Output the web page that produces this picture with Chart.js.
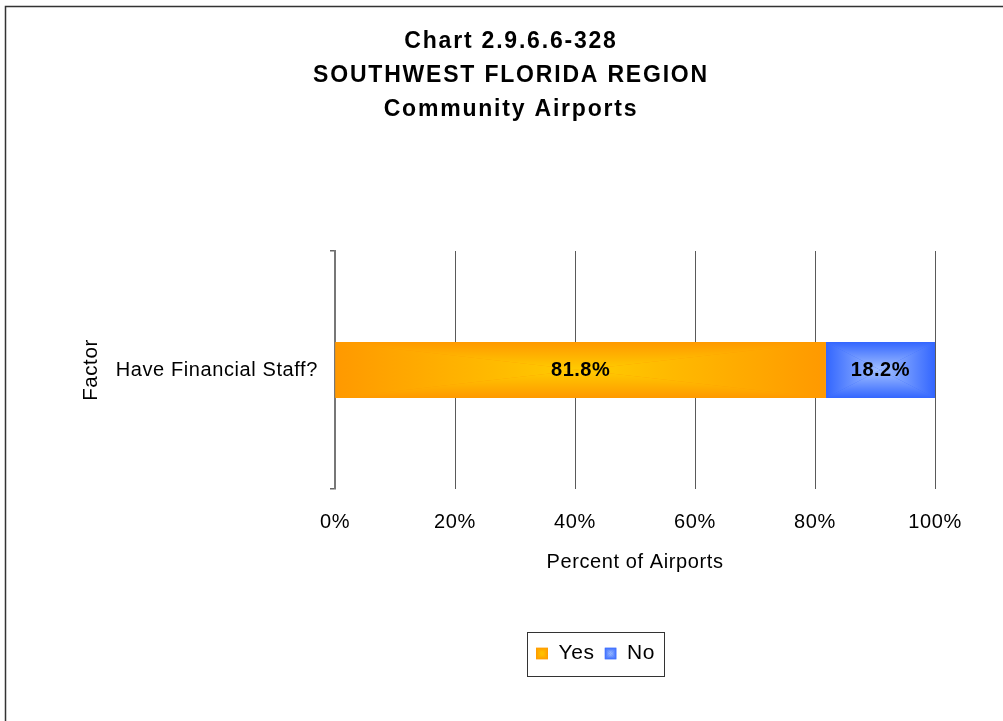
<!DOCTYPE html>
<html>
<head>
<meta charset="utf-8">
<script src="https://cdn.jsdelivr.net/npm/chart.js@4/dist/chart.umd.min.js"></script>
<style>
  html, body { margin: 0; padding: 0; background: #fff; }
</style>
</head>
<body>
<canvas id="myChart" width="1003" height="721"></canvas>
<script>
// data
const titleLines = ['Chart 2.9.6.6-328', 'SOUTHWEST FLORIDA REGION', 'Community Airports'];
const categories = ['Have Financial Staff?'];
const seriesNames = ['Yes', 'No'];
const yesValues = [81.8];
const noValues = [18.2];
const xMin = 0, xMax = 100, xStep = 20;

const FONT = '"Liberation Sans", Arial, sans-serif';
const orange = { edge: '#ff9900', mid: '#ffcc00' };
const blue = { edge: '#3366ff', mid: '#a3c1ff' };
const barHeight = 56;

/* rectangle "from centre" gradient, drawn as 4 triangles */
function paintBox(g, x0, y0, x1, y1, col) {
  const cx = (x0 + x1) / 2, cy = (y0 + y1) / 2;
  g.fillStyle = col.edge;
  g.fillRect(x0, y0, x1 - x0, y1 - y0);
  const tris = [
    [[x0, y0], [x1, y0], [cx, y0]],
    [[x0, y1], [x1, y1], [cx, y1]],
    [[x0, y0], [x0, y1], [x0, cy]],
    [[x1, y0], [x1, y1], [x1, cy]]
  ];
  tris.forEach(function (t) {
    const grad = g.createLinearGradient(t[2][0], t[2][1], cx, cy);
    grad.addColorStop(0, col.edge);
    grad.addColorStop(1, col.mid);
    g.fillStyle = grad;
    g.beginPath();
    g.moveTo(t[0][0], t[0][1]);
    g.lineTo(t[1][0], t[1][1]);
    g.lineTo(cx, cy);
    g.closePath();
    g.fill();
  });
}

function boxPattern(chart, rects, col) {
  const off = document.createElement('canvas');
  off.width = chart.width;
  off.height = chart.height;
  const g = off.getContext('2d');
  rects.forEach(function (r) { paintBox(g, r[0], r[1], r[2], r[3], col); });
  return chart.ctx.createPattern(off, 'no-repeat');
}

function segmentFill(col) {
  return function (c) {
    const chart = c.chart;
    if (c.type !== 'data' || !chart.chartArea || !chart.scales.x) return col.edge;
    let start = 0;
    for (let d = 0; d < c.datasetIndex; d++) start += chart.data.datasets[d].data[c.dataIndex];
    const x0 = chart.scales.x.getPixelForValue(start);
    const x1 = chart.scales.x.getPixelForValue(start + c.raw);
    const yc = chart.scales.y.getPixelForValue(c.dataIndex);
    return boxPattern(chart, [[x0, yc - barHeight / 2, x1, yc + barHeight / 2]], col);
  };
}

/* white page + frame line on top and left */
const frame = {
  id: 'frame',
  beforeUpdate(chart) { chart.ctx.letterSpacing = '0.6px'; },
  beforeDraw(chart) {
    const ctx = chart.ctx;
    ctx.save();
    ctx.fillStyle = '#fff';
    ctx.fillRect(0, 0, chart.width, chart.height);
    ctx.strokeStyle = '#333';
    ctx.lineWidth = 1.5;
    ctx.beginPath();
    ctx.moveTo(chart.width, 6.5);
    ctx.lineTo(5.5, 6.5);
    ctx.lineTo(5.5, chart.height);
    ctx.stroke();
    ctx.restore();
    ctx.letterSpacing = '0.6px';
  }
};

/* move title / legend to where the original had them, box the legend */
const placeBoxes = {
  id: 'placeBoxes',
  afterLayout(chart) {
    const t = chart.titleBlock;
    t.left += 6; t.right += 6;
    const l = chart.legend;
    const pad = l.options.labels.padding;
    const cur = (l.left + pad + l.right - l.lineWidths[0]) / 2;
    const delta = 536 - cur;
    l.left += delta; l.right += delta;
  },
  afterUpdate(chart) {
    const l = chart.legend;
    const cols = [orange, blue];
    const bw = l.options.labels.boxWidth;
    l.legendItems.forEach(function (item, i) {
      const hb = l.legendHitBoxes[i];
      const y0 = hb.top + (hb.height - bw) / 2;
      item.fillStyle = boxPattern(chart, [[hb.left, y0, hb.left + bw, y0 + bw]], cols[i]);
      item.lineWidth = 0;
    });
  },
  afterDraw(chart) {
    const l = chart.legend;
    const hbs = l.legendHitBoxes;
    if (!hbs.length) return;
    const first = hbs[0], last = hbs[hbs.length - 1];
    const cy = first.top + first.height / 2;
    const ctx = chart.ctx;
    ctx.save();
    ctx.strokeStyle = '#333';
    ctx.lineWidth = 1;
    ctx.strokeRect(Math.round(first.left - 9) + 0.5, Math.round(cy - 22) + 0.5,
      Math.round(last.left + last.width + 9 - (first.left - 9)), 44);
    ctx.restore();
  }
};

/* value labels in the middle of each bar */
const barLabels = {
  id: 'barLabels',
  afterDatasetsDraw(chart) {
    const ctx = chart.ctx;
    ctx.save();
    ctx.letterSpacing = '0.5px';
    ctx.font = 'bold 20px ' + FONT;
    ctx.fillStyle = '#000';
    ctx.textAlign = 'center';
    ctx.textBaseline = 'middle';
    chart.data.datasets.forEach(function (ds, i) {
      chart.getDatasetMeta(i).data.forEach(function (bar, j) {
        const p = bar.getCenterPoint();
        ctx.fillText(ds.data[j].toFixed(1) + '%', p.x, p.y);
      });
    });
    ctx.restore();
  }
};

const ctx = document.getElementById('myChart').getContext('2d');
const myChart = new Chart(ctx, {
  type: 'bar',
  data: {
    labels: categories,
    datasets: [
      { label: seriesNames[0], data: yesValues, backgroundColor: segmentFill(orange) },
      { label: seriesNames[1], data: noValues, backgroundColor: segmentFill(blue) }
    ]
  },
  options: {
    indexAxis: 'y',
    responsive: false,
    animation: false,
    devicePixelRatio: 1,
    borderWidth: 0,
    barThickness: barHeight,
    layout: { padding: { left: 75, right: 68, top: 0, bottom: 47 } },
    scales: {
      x: {
        stacked: true,
        min: xMin,
        max: xMax,
        afterFit: function (s) { s.height = 144; },
        ticks: {
          stepSize: xStep,
          padding: 21,
          color: '#000',
          font: { family: FONT, size: 20 },
          callback: function (v) { return v + '%'; }
        },
        grid: { color: '#5a5a5a', lineWidth: 1, drawTicks: false },
        border: { display: false },
        title: {
          display: true,
          text: 'Percent of Airports',
          color: '#000',
          font: { family: FONT, size: 20 },
          padding: { top: 4, bottom: 59 }
        }
      },
      y: {
        stacked: true,
        afterFit: function (s) { s.width = 260; },
        ticks: {
          padding: 12,
          color: '#000',
          font: { family: FONT, size: 20 }
        },
        grid: { drawOnChartArea: false, tickLength: 5, color: '#666', lineWidth: 1.5 },
        border: { color: '#777', width: 2 },
        title: {
          display: true,
          text: 'Factor',
          color: '#000',
          font: { family: FONT, size: 20.5 },
          padding: { top: 4, bottom: 4 }
        }
      }
    },
    plugins: {
      title: {
        display: true,
        text: titleLines,
        color: '#000',
        font: { family: FONT, size: 23, weight: 'bold', lineHeight: 34 / 23 },
        padding: { top: 25, bottom: 124 }
      },
      legend: {
        position: 'bottom',
        labels: {
          boxWidth: 12,
          boxHeight: 12,
          padding: 10,
          color: '#000',
          font: { family: FONT, size: 21 }
        }
      },
      tooltip: { enabled: false }
    }
  },
  plugins: [frame, placeBoxes, barLabels]
});

// wider spacing for the bold title, like the original
const tb = myChart.titleBlock;
const tbDraw = tb.draw;
tb.draw = function () {
  const c = this.ctx;
  const prev = c.letterSpacing;
  c.letterSpacing = '1.8px';
  tbDraw.apply(this, arguments);
  c.letterSpacing = prev;
};
myChart.draw();
</script>
</body>
</html>
